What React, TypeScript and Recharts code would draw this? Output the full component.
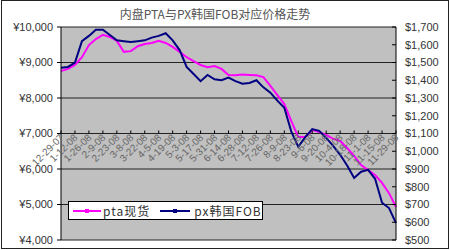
import React from "react";
import { LineChart, Line, XAxis, YAxis, CartesianGrid, Legend } from "recharts";

const dates = [
  "12-29-07", "1-5-08", "1-12-08", "1-19-08", "1-26-08", "2-2-08", "2-9-08",
  "2-16-08", "2-23-08", "3-1-08", "3-8-08", "3-15-08", "3-22-08", "3-29-08",
  "4-5-08", "4-12-08", "4-19-08", "4-26-08", "5-3-08", "5-10-08", "5-17-08",
  "5-24-08", "5-31-08", "6-7-08", "6-14-08", "6-21-08", "6-28-08", "7-5-08",
  "7-12-08", "7-19-08", "7-26-08", "8-2-08", "8-9-08", "8-16-08", "8-23-08",
  "8-30-08", "9-6-08", "9-13-08", "9-20-08", "9-27-08", "10-4-08", "10-11-08",
  "10-18-08", "10-25-08", "11-1-08", "11-8-08", "11-15-08", "11-22-08", "11-29-08",
];

// pta现货, RMB/t (left axis)
const ptaSpot = [
  8760, 8820, 8930, 9150, 9490, 9660, 9780, 9720, 9610, 9300, 9320, 9460, 9520,
  9550, 9610, 9550, 9440, 9300, 9150, 9040, 8930, 8870, 8900, 8820, 8650, 8640,
  8660, 8650, 8640, 8590, 8340, 8080, 7830, 7350, 6900, 6900, 7100, 7040, 6960,
  6850, 6790, 6590, 6370, 6110, 5970, 5830, 5610, 5320, 4930,
];

// px韩国FOB, USD/t (right axis)
const pxFob = [
  1470, 1475, 1500, 1620, 1650, 1685, 1685, 1655, 1625, 1620, 1615, 1620, 1625,
  1640, 1650, 1665, 1625, 1570, 1475, 1435, 1395, 1430, 1405, 1400, 1415, 1395,
  1380, 1385, 1400, 1360, 1330, 1285, 1245, 1110, 1025, 1080, 1125, 1115, 1075,
  1030, 980, 920, 850, 885, 895, 845, 710, 680, 595,
];

const leftTicks = [4000, 5000, 6000, 7000, 8000, 9000, 10000];
const rightTicks = [500, 600, 700, 800, 900, 1000, 1100, 1200, 1300, 1400, 1500, 1600, 1700];

const data = dates.map((date, i) => ({ date, pta: ptaSpot[i], px: pxFob[i] }));

const fmt = (n: number) => n.toLocaleString("en-US");

// category axis crosses the left axis at ¥7,000 in the original
const DateTick = (props: any) => {
  const { x, y, payload } = props;
  return (
    <g transform={`translate(${x},${y - 106.5})`}>
      <line x1={0} y1={-3} x2={0} y2={0} stroke="#000" />
      <text
        x={-1}
        y={3}
        transform="rotate(-45)"
        textAnchor="end"
        dominantBaseline="middle"
        fontSize={10}
        fontFamily="Liberation Sans, Arial, sans-serif"
        fill="#666"
      >
        {payload.value}
      </text>
    </g>
  );
};

const LegendBox = () => (
  <div
    style={{
      boxSizing: "border-box",
      width: 195,
      height: 19,
      background: "#fff",
      border: "1px solid #000",
      display: "flex",
      alignItems: "center",
      whiteSpace: "nowrap",
      fontFamily: "Noto Sans CJK SC, sans-serif",
      fontSize: 12,
      color: "#333",
    }}
  >
    <svg width={30} height={10} style={{ marginLeft: 4, flexShrink: 0 }}>
      <line x1={0} y1={5} x2={28} y2={5} stroke="#FF00FF" strokeWidth={2} />
      <rect x={12} y={3} width={4} height={4} fill="#FF00FF" />
    </svg>
    <span style={{ letterSpacing: 1, flexShrink: 0 }}>pta现货</span>
    <svg width={34} height={10} style={{ marginLeft: 10, flexShrink: 0 }}>
      <line x1={0} y1={5} x2={30} y2={5} stroke="#000080" strokeWidth={2} />
      <rect x={13} y={3} width={4} height={4} fill="#000080" />
    </svg>
    <span style={{ letterSpacing: 1, flexShrink: 0 }}>px韩国FOB</span>
  </div>
);

export default function App() {
  return (
    <div
      style={{
        position: "absolute",
        left: 0,
        top: 0,
        width: 450,
        height: 250,
        background: "#fff",
      }}
    >
      <div
        style={{
          position: "absolute",
          left: 1,
          top: 0,
          width: 446,
          height: 247,
          border: "1.5px solid #222",
        }}
      />
      <div
        style={{
          position: "absolute",
          left: 0,
          top: 5,
          width: 430,
          textAlign: "center",
          fontFamily: "Noto Sans CJK SC, sans-serif",
          fontSize: 12,
          color: "#555",
        }}
      >
        内盘PTA与PX韩国FOB对应价格走势
      </div>
      <LineChart
        width={450}
        height={250}
        data={data}
        margin={{ top: 27, right: 0, bottom: 0, left: 0 }}
        style={{ position: "absolute", left: 0, top: 0 }}
      >
        <CartesianGrid
          yAxisId="left"
          vertical={false}
          stroke="#222"
          fill="#C0C0C0"
          horizontalValues={leftTicks}
        />
        <XAxis
          dataKey="date"
          interval={1}
          tick={<DateTick />}
          tickLine={false}
          axisLine={false}
          tickSize={0}
          tickMargin={0}
          height={10}
        />
        <YAxis
          yAxisId="left"
          width={61}
          domain={[4000, 10000]}
          ticks={leftTicks}
          tickFormatter={(v: number) => "¥" + fmt(v)}
          tick={{ fontSize: 11, fill: "#333", fontFamily: "Liberation Sans, Arial, sans-serif" }}
          stroke="#000"
          tickSize={4}
          tickMargin={4}
          interval={0}
        />
        <YAxis
          yAxisId="right"
          orientation="right"
          width={54}
          domain={[500, 1700]}
          ticks={rightTicks}
          tickFormatter={(v: number) => "$" + fmt(v)}
          tick={{ fontSize: 11, fill: "#333", fontFamily: "Liberation Sans, Arial, sans-serif" }}
          stroke="#000"
          tickSize={-4}
          tickMargin={13}
          interval={0}
        />
        <Line
          yAxisId="left"
          type="linear"
          dataKey="pta"
          name="pta现货"
          stroke="#FF00FF"
          strokeWidth={2}
          dot={false}
          isAnimationActive={false}
        />
        <Line
          yAxisId="right"
          type="linear"
          dataKey="px"
          name="px韩国FOB"
          stroke="#000080"
          strokeWidth={2}
          dot={false}
          isAnimationActive={false}
        />
        <Legend
          layout="horizontal"
          verticalAlign="middle"
          content={<LegendBox />}
          wrapperStyle={{ left: 68, top: 201, width: 195, height: 19 }}
        />
      </LineChart>
    </div>
  );
}
